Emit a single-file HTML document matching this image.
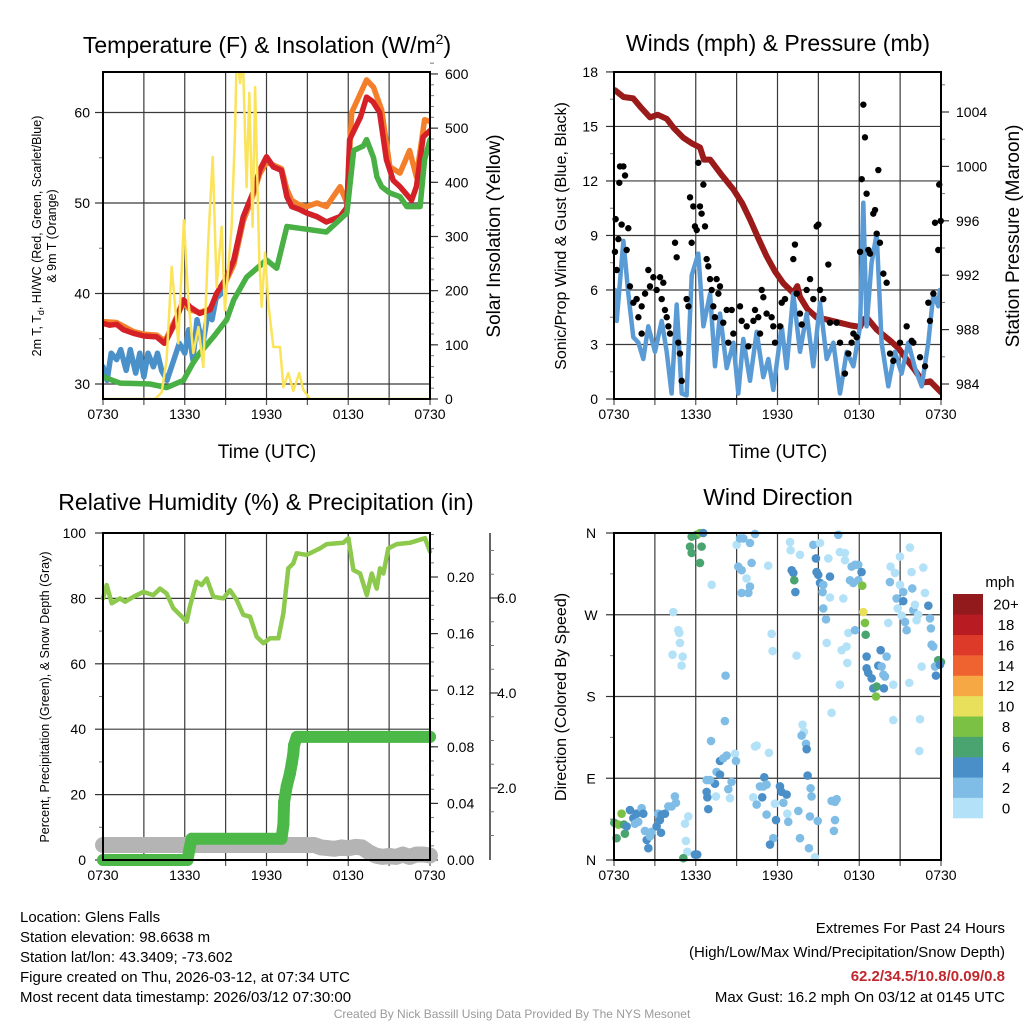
<!DOCTYPE html>
<html><head><meta charset="utf-8"><title>Glens Falls Meteogram</title>
<style>
html,body{margin:0;padding:0;background:#fff;}
svg{display:block;font-family:"Liberation Sans",sans-serif;}
</style></head>
<body>
<svg id="chart" width="1024" height="1024" viewBox="0 0 1024 1024" xmlns="http://www.w3.org/2000/svg">
<defs>
<clipPath id="clip1"><rect x="103" y="72" width="327" height="327"/></clipPath>
<clipPath id="clip2"><rect x="614" y="72" width="327" height="327"/></clipPath>
</defs>
<rect x="0" y="0" width="1024" height="1024" fill="#fff"/>
<text x="267" y="53" font-size="23" text-anchor="middle">Temperature (F) &amp; Insolation (W/m<tspan dy="-9" font-size="14">2</tspan><tspan dy="9">)</tspan></text>
<text x="778" y="51" font-size="23" text-anchor="middle">Winds (mph) &amp; Pressure (mb)</text>
<text x="266" y="510" font-size="23" text-anchor="middle">Relative Humidity (%) &amp; Precipitation (in)</text>
<text x="778" y="505" font-size="23" text-anchor="middle">Wind Direction</text>
<text x="267" y="458" font-size="19" text-anchor="middle">Time (UTC)</text>
<text x="778" y="458" font-size="19" text-anchor="middle">Time (UTC)</text>
<text transform="translate(41,236) rotate(-90)" font-size="12.5" text-anchor="middle">2m T, T<tspan dy="3" font-size="9">d</tspan><tspan dy="-3">, HI/WC (Red, Green, Scarlet/Blue)</tspan></text>
<text transform="translate(56,236) rotate(-90)" font-size="12.5" text-anchor="middle">&amp; 9m T (Orange)</text>
<text transform="translate(500,236) rotate(-90)" font-size="19" text-anchor="middle">Solar Insolation (Yellow)</text>
<text transform="translate(566,236) rotate(-90)" font-size="16" text-anchor="middle">Sonic/Prop Wind &amp; Gust (Blue, Black)</text>
<text transform="translate(1019,236) rotate(-90)" font-size="19" text-anchor="middle">Station Pressure (Maroon)</text>
<text transform="translate(49,697) rotate(-90)" font-size="12.5" text-anchor="middle">Percent, Precipitation (Green), &amp; Snow Depth (Gray)</text>
<text transform="translate(566,697) rotate(-90)" font-size="16" text-anchor="middle">Direction (Colored By Speed)</text>
<text x="1000" y="587" font-size="15" text-anchor="middle">mph</text>
<g font-size="15">
<text x="20" y="922">Location: Glens Falls</text>
<text x="20" y="942">Station elevation: 98.6638 m</text>
<text x="20" y="962">Station lat/lon: 43.3409; -73.602</text>
<text x="20" y="982">Figure created on Thu, 2026-03-12, at 07:34 UTC</text>
<text x="20" y="1002">Most recent data timestamp: 2026/03/12 07:30:00</text>
</g>
<g font-size="15" text-anchor="end">
<text x="1005" y="933">Extremes For Past 24 Hours</text>
<text x="1005" y="957">(High/Low/Max Wind/Precipitation/Snow Depth)</text>
<text x="1005" y="981" font-weight="bold" fill="#c1272d">62.2/34.5/10.8/0.09/0.8</text>
<text x="1005" y="1002">Max Gust: 16.2 mph On 03/12 at 0145 UTC</text>
</g>
<text x="512" y="1018" font-size="12" fill="#9a9a9a" text-anchor="middle">Created By Nick Bassill Using Data Provided By The NYS Mesonet</text>
</svg>
<script>
// ---------- DATA ----------
const xTickLabels = ["0730","1330","1930","0130","0730"];
const tempTicks = [30,40,50,60];
const insolTicks = [0,100,200,300,400,500,600];
const windTicks = [0,3,6,9,12,15,18];
const pressTicks = [984,988,992,996,1000,1004];
const rhTicks = [0,20,40,60,80,100];
const precipTicks = [0.00,0.04,0.08,0.12,0.16,0.20];
const precipTickLabels = ["0.00","0.04","0.08","0.12","0.16","0.20"];
const snowTicks = [2,4,6];
const snowTickLabels = ["2.0","4.0","6.0"];
const dirTicks = [0,90,180,270,360];
const dirTickLabels = ["N","E","S","W","N"];
const speedBins = ["0","2","4","6","8","10","12","14","16","18","20+"];

const tempTimes = [0,0.5,1,1.5,2.23,3,3.94,4.5,4.67,5.2,5.9,6.4,7.1,7.85,8.34,9.08,9.6,10.3,11.0,11.5,12.0,12.5,13.1,13.5,13.85,14.4,14.95,15.7,16.4,17.4,17.9,18.1,18.9,19.35,19.8,20.3,20.8,21.3,21.8,22.65,23.0,23.5,24];
const tempValues = [36.7,36.5,36.6,36.0,35.6,35.3,35.2,34.5,34.9,36.5,39.3,38.5,37.8,38.2,40,41.8,43.7,48.5,51.1,53.6,55.1,54,53.6,50.7,49.6,49.3,48.9,48.5,47.9,48.5,49.5,57,59.5,61.7,61.2,60,54.8,52.5,51.8,50.3,51.8,57.3,58];
const temp9mTimes = [0,1,2.23,3,3.94,4.5,4.67,5.2,5.9,6.4,7.1,7.85,8.34,9.08,9.6,10.3,11.0,11.5,12.0,12.5,13.1,13.5,13.85,14.4,14.95,15.7,16.4,17.4,17.9,18.25,19.35,19.85,20.45,21.05,21.8,22.5,23.0,23.6,24];
const temp9mValues = [36.9,36.8,35.8,35.5,35.4,34.8,35.1,36.8,39.0,38.2,37.9,38.3,39.7,41.5,43.2,48.0,50.8,53.2,54.5,54.2,53.8,51.5,50.3,49.8,49.6,50,49.6,51.8,50,60,63.6,62.8,60.3,54,53.3,55.8,52.9,59.2,59];
const chillTimes = [0,0.3,0.6,1,1.3,1.7,2,2.4,2.7,3,3.3,3.7,4,4.3,4.7,5.2,5.6,6,6.3,6.6,6.9,7.3,7.7,8,8.3,8.7,9.08,9.6,10.3,11.0,11.5,12.0,12.5,13.1,13.5,13.85,14.4,14.95,15.7,16.4,17.4,17.9,18.1];
const chillValues = [31.9,30.4,33.4,32.7,33.8,31.5,33.8,31.2,33.4,30.8,33.4,31.9,33.4,31.5,30.4,32.7,34.5,33.4,36,32.7,37.1,34.2,37.8,37.1,39.5,40,41.8,43.7,48.5,51.1,53.6,55.1,54,53.6,50.7,49.6,49.3,48.9,48.5,47.9,48.5,49.5,56];
const dewTimes = [0,1.25,3.45,4.67,5.9,6.6,7.1,8.1,9.08,9.6,10.54,12.0,12.75,13.5,14.46,16.4,17.9,18.4,19.1,19.35,19.85,20.1,20.45,21.06,21.8,22.3,23.27,23.6,24];
const dewValues = [30.8,30.1,30.0,29.6,30.4,32.3,33.4,35.2,37.1,39.3,41.8,43.7,42.8,47.4,47.2,46.8,48.9,55.8,56.3,57,55,52.9,51.8,51.1,50.7,49.6,49.6,54.8,57];
const insolTimes = [0,3.82,4.3,4.67,5.04,5.53,5.94,6.26,6.63,7.0,7.36,7.73,8.05,8.34,8.71,8.95,9.44,9.69,9.81,10.06,10.25,10.54,10.74,10.98,11.16,11.47,11.65,11.89,12.13,12.5,12.99,13.24,13.6,13.97,14.41,14.7,15.19,24];
const insolValues = [0,0,12,72,244,103,330,183,85,133,59,293,447,207,318,164,318,491,640,583,640,391,565,318,576,257,170,270,177,96,96,22,48,15,48,17,0,0];

const windTimes = [0.07,0.2,0.69,1.05,1.42,1.79,2.15,2.52,3.01,3.5,3.87,4.23,4.6,4.97,5.33,5.7,6.19,6.56,7.05,7.41,7.78,8.27,8.76,9.12,9.49,9.98,10.47,10.96,11.33,11.69,12.31,12.67,13.16,13.65,14.14,14.63,15.12,15.61,16.1,16.59,17.08,17.57,18.06,18.3,18.54,18.91,19.28,19.64,20.13,20.62,21.11,21.6,22.09,22.58,23.07,23.44,23.8,23.92];
const windValues = [6,4.3,8.7,5.8,3.4,3.1,2.2,4,2.6,4.3,2.6,0.3,5.2,0.3,0.2,6.8,8,4,5.8,1.8,4.7,1.7,3.1,0.3,3.3,1,3.7,1.2,2.2,0.5,4,1.7,5.8,2.6,4.7,1.8,5.3,2.2,3.1,0.3,2.6,1.8,4,10.8,4,7.5,9.1,3.1,0.7,2.6,1.4,3.1,1.7,0.7,3.1,5.8,5.1,6];
const gustTimes = [0.07,0.12,0.2,0.32,0.39,0.44,0.69,0.81,0.56,1.05,0.93,1.17,1.42,1.66,1.79,2.03,2.03,2.28,2.52,2.64,2.89,3.13,3.38,3.5,3.62,3.74,3.87,3.99,4.11,4.48,4.6,4.72,4.97,4.84,5.33,5.46,5.58,5.7,5.82,5.94,6.07,6.19,6.31,6.43,6.56,6.68,6.8,6.92,7.05,7.17,7.29,7.41,7.53,7.66,7.78,8.02,8.27,8.39,8.64,8.76,9.25,9.37,9.74,9.86,10.23,10.35,10.59,10.72,10.84,10.96,11.2,11.57,11.69,11.82,12.18,12.31,12.55,13.16,13.28,13.41,13.65,13.78,14.14,14.39,14.63,14.87,15.0,15.12,15.36,15.73,15.85,16.34,16.59,16.95,17.2,17.44,17.57,17.81,18.06,18.18,18.3,18.42,18.54,18.67,18.79,19.03,19.16,19.28,19.4,19.52,19.77,20.01,20.26,20.5,20.99,21.48,21.85,21.97,22.46,22.83,23.07,23.19,23.44,23.56,23.8,23.87,23.98];
const gustValues = [8.1,9.9,7.1,8.8,11.9,12.8,12.8,12.3,9.6,9.4,8.2,6.2,5.3,5.5,4.5,5.1,3.6,5.8,7.1,6.2,6.7,6.0,6.7,5.5,6.4,4.9,4.5,4.0,3.6,8.6,7.8,3.1,1.0,2.5,5.5,5.1,11.1,8.6,10.6,9.5,9.3,13,10.6,10.2,11.8,9.5,7.7,7.3,6.6,6.0,5.1,4.5,6.6,5.8,6.2,4.2,4.9,3.1,4.9,3.6,5.1,4.3,4.0,2.9,4.3,4.9,4.5,3.6,6.0,5.6,4.7,4.5,4.0,3.1,4.0,5.3,5.5,7.7,8.5,5.8,4.7,4.1,6.0,6.6,5.5,9.5,9.6,6.0,5.5,7.4,4.2,4.2,3.1,1.4,2.5,3.1,3.6,3.4,8.1,12.1,16.2,14.4,11.3,8.2,8.0,10.2,10.4,9.1,12.6,8.6,6.9,6.4,2.5,2.1,3.1,4.0,3.2,3.1,2.3,1.8,5.3,4.3,5.8,9.7,8.2,11.8,9.8];
const pressTimes = [0.07,0.7,1.42,2.0,2.64,3.2,3.87,4.4,5.09,5.7,6.31,6.6,7.05,7.8,8.76,9.4,9.98,10.6,11.2,11.8,12.43,13.16,13.45,13.65,14.2,14.87,15.8,16.59,17.4,18.06,18.3,18.54,19.28,20.26,20.9,21.48,22.1,22.7,23.2,24.0];
const pressValues = [1005.6,1005.1,1005.0,1004.3,1003.6,1003.8,1003.5,1002.8,1002.1,1001.7,1001.4,1000.5,1000.5,999.5,998.3,997.3,996.1,994.7,993.4,992.3,991.4,990.7,991.2,990.4,989.5,988.9,988.7,988.5,988.3,988.2,988.7,988.9,988.0,987.2,986.6,985.8,985.0,984.1,984.2,983.4];

const rhTimes = [0,0.27,0.64,1.25,1.62,2.23,2.96,3.69,4.18,4.67,5.16,5.65,6.14,6.38,6.87,7.24,7.61,8.1,8.83,9.32,9.81,10.3,10.79,11.28,11.77,12.26,12.87,13.24,13.6,13.97,14.22,14.95,15.93,16.42,17.64,18.01,18.38,18.87,19.36,19.72,20.09,20.33,20.58,20.94,21.56,22.53,23.63,24];
const rhValues = [80,84.1,78.5,80,79,80.5,82,81,83,81.5,77,75,72.9,77.5,85.1,84.1,86.1,80.5,80,82.5,79.5,75,74.4,68.3,66.3,67.8,67.8,75.5,89.2,90.7,93.8,93.3,95.3,96.6,97,98.4,88.7,87.6,81,87.6,83,89.2,87.6,95.3,96.6,97,98.4,94.3];
const precipTimes = [0,6.2,6.35,6.5,13.1,13.24,13.29,13.48,13.72,13.85,13.97,14.02,14.22,24];
const precipValues = [0,0,0.008,0.015,0.015,0.025,0.041,0.052,0.061,0.068,0.075,0.081,0.087,0.087];
const snowTimes = [0,2,4,6,8,10,12,14,15.5,16,17,17.5,18,18.5,19,19.5,20,20.5,21,21.5,22,22.5,23,23.5,24];
const snowValues = [0.8,0.8,0.8,0.8,0.8,0.8,0.8,0.8,0.8,0.75,0.72,0.75,0.73,0.76,0.75,0.65,0.58,0.55,0.57,0.55,0.6,0.55,0.6,0.6,0.58];

const dirTimes = [6.06,6.31,6.55,5.70,5.58,5.70,6.43,6.31,7.17,9.0,9.25,9.49,10.35,9.98,9.12,9.37,9.73,9.98,9.37,9.86,10.1,11.32,12.92,12.96,13.65,14.63,15.12,14.82,13.04,13.16,13.23,13.31,14.87,14.99,15.12,15.85,15.36,15.31,15.85,16.83,15.73,16.46,16.58,16.95,16.95,17.44,17.69,17.93,18.17,17.32,17.56,17.93,18.22,18.30,18.42,18.47,15.36,15.56,15.61,17.20,17.69,17.07,16.71,17.12,16.58,18.54,19.57,20.01,18.54,18.66,18.91,19.03,19.28,19.23,19.40,19.64,19.77,19.89,19.81,20.5,21.67,20.25,20.30,20.62,20.99,21.72,21.84,22.7,20.99,21.23,21.89,22.82,20.74,21.23,20.82,21.97,22.09,21.11,21.36,21.48,22.21,22.33,23.07,23.19,23.26,23.31,23.43,23.8,24.0,23.56,23.92,23.63,22.58,20.13,20.5,22.46,22.41,15.97,4.35,4.72,4.79,4.84,4.30,5.04,4.96,8.19,11.57,11.64,13.40,8.14,7.12,7.78,8.02,8.27,8.88,8.95,7.53,7.78,7.41,6.80,7.04,8.63,8.39,8.51,7.48,6.80,6.85,6.92,10.35,10.47,11.37,11.03,10.71,10.96,11.20,10.88,10.22,10.47,11.20,11.81,11.89,12.18,12.30,12.67,12.43,12.72,11.69,11.45,13.53,12.79,13.84,13.94,13.77,14.09,14.14,14.21,14.43,14.5,14.38,14.95,13.65,14.31,14.75,15.97,16.22,16.34,16.22,16.14,5.45,5.21,5.28,5.38,5.09,5.94,6.11,0.19,0.02,0.32,0.56,0.73,0.80,0.93,1.17,1.42,1.66,1.78,2.03,2.15,1.54,2.27,2.40,2.52,2.64,2.76,3.25,3.50,3.37,3.74,3.99,4.23,4.47,4.55,3.45,3.13];
const dirValues = [358,360,360,356,345,338,345,327,303,347,354,354,359,349,323,319,310,301,294,294,327,324,350,341,336,347,349,332,319,316,308,295,317,314,305,312,303,295,289,288,332,358,339,338,330,323,325,325,317,308,305,308,302,273,261,248,277,265,239,250,253,235,231,217,193,224,231,224,211,206,200,189,191,180,214,213,204,202,189,193,195,306,323,316,334,344,317,322,303,295,299,294,288,285,277,275,281,269,262,253,264,270,280,266,255,237,235,220,218,213,215,203,213,261,154,155,120,162,273,253,250,239,226,224,214,203,249,230,225,153,131,109,112,115,117,109,97,94,84,88,88,86,78,68,70,75,69,56,125,126,118,91,81,81,83,69,69,61,50,62,44,81,75,72,63,51,24,17,54,42,149,141,137,128,122,93,79,70,48,43,24,13,3,65,64,67,44,32,48,40,21,9,2,6,6,24,41,39,51,39,29,37,55,46,51,42,57,51,40,32,22,13,26,31,51,50,44,51,59,59,70,63,30,37];
const dirSpeeds = [6,8,4,6,6,6,6,6,0,0,2,2,2,2,2,2,0,2,2,2,2,0,0,0,0,2,0,4,4,4,6,4,4,4,4,4,2,2,0,0,0,2,0,0,0,2,2,2,4,2,2,2,8,10,8,6,2,2,0,0,2,0,0,0,0,4,4,2,4,4,4,4,6,8,4,2,2,2,4,0,0,2,0,0,0,0,0,0,0,2,2,0,2,4,0,2,0,0,2,2,0,0,4,2,2,2,2,6,6,2,4,4,0,0,0,0,0,0,0,0,0,0,0,0,0,2,0,0,0,2,2,4,2,2,0,2,2,4,4,2,2,2,2,0,0,4,4,4,0,0,0,4,2,2,2,4,0,2,2,0,4,4,4,4,2,0,2,4,2,2,0,0,2,2,4,4,2,2,2,2,2,2,0,2,2,2,2,2,0,0,0,0,6,4,4,6,6,8,8,6,6,4,4,4,4,2,2,4,2,2,4,4,2,2,2,4,4,4,2,2,2,2,4,4,2];

// ---------- HELPERS ----------
const NS = 'http://www.w3.org/2000/svg';
const svg = document.getElementById('chart');
function mk(tag, attrs, parent) {
  const e = document.createElementNS(NS, tag);
  for (const k in attrs) e.setAttribute(k, attrs[k]);
  (parent || svg).appendChild(e);
  return e;
}
function grp(name, clip) {
  const g = mk('g', clip ? {'clip-path': 'url(#' + clip + ')'} : {});
  
  
  return g;
}
function pts(times, vals, xf, yf) {
  return times.map((t, i) => xf(t).toFixed(1) + ',' + yf(vals[i]).toFixed(1)).join(' ');
}
const speedColors = ['#b3e1f7','#7fbde6','#4a8fc7','#4aa46f','#7bc143','#e8e05a','#f6a845','#ef6330','#dd3a2a','#b81c22','#931a1c'];

// scales
const PW = 327, HOUR = PW / 24;
const x1 = t => 103 + t * HOUR;
const x2 = t => 614 + t * HOUR;
const yT = v => 384 - (v - 30) * 9.05;
const yI = v => 399 - v * 0.5417;
const yW = v => 399 - v * 18.17;
const yP = v => 384 - (v - 984) * 13.6;
const yRH = v => 860 - v * 3.27;
const yPr = v => 860 - v * 1415;
const ySn = v => 883 - v * 47.5;
const yD = v => 860 - v * 0.9083;

// ---------- PANEL FRAMES/GRIDS ----------
function panelGrid(name, x0, y0, hVals, yf) {
  const g = grp(name + '-grid');
  for (let h = 3; h < 24; h += 3) {
    const l = mk('line', {x1: x0 + h * HOUR, x2: x0 + h * HOUR, y1: y0, y2: y0 + PW, stroke: '#3a3a3a', 'stroke-width': 1.2}, g);
    
    
  }
  hVals.forEach(v => {
    const y = yf(v);
    if (y <= y0 + 1 || y >= y0 + PW - 1) return;
    const l = mk('line', {x1: x0, x2: x0 + PW, y1: y, y2: y, stroke: '#3a3a3a', 'stroke-width': 1.2}, g);
    
    
  });
  for (let h = 0; h <= 24; h += 3) {
    const tk = mk('line', {x1: x0 + h * HOUR, x2: x0 + h * HOUR, y1: y0 + PW, y2: y0 + PW + 6, stroke: '#555', 'stroke-width': 1.2}, g);
    
    
  }
  xTickLabels.forEach((s, i) => {
    const t = mk('text', {x: x0 + i * 6 * HOUR, y: y0 + PW + 20, 'font-size': 14, 'text-anchor': 'middle'}, g);
    t.textContent = s;
    
    
  });
}
function frame(name, x0, y0) {
  const r = mk('rect', {x: x0, y: y0, width: PW, height: PW, fill: 'none', stroke: '#000', 'stroke-width': 2});
  
  
}
function yAxis(name, ax, vals, labels, yf, side, minorVals, lx, anchor) {
  const g = grp(name);
  const dir = side === 'left' ? -1 : 1;
  minorVals.forEach(v => {
    const y = yf(v);
    const m = mk('line', {x1: ax, x2: ax + dir * 4, y1: y, y2: y, stroke: '#777', 'stroke-width': 1}, g);
    
    
  });
  vals.forEach((v, i) => {
    const y = yf(v);
    const tk = mk('line', {x1: ax, x2: ax + dir * 8, y1: y, y2: y, stroke: '#333', 'stroke-width': 1.2}, g);
    
    
    const t = mk('text', {x: lx, y: y + 5, 'font-size': 14, 'text-anchor': anchor}, g);
    t.textContent = labels[i];
    
    
  });
}
function range(a, b, s) { const r = []; for (let v = a; v <= b + 1e-9; v += s) r.push(+v.toFixed(4)); return r; }

panelGrid('temp-panel', 103, 72, tempTicks, yT);
yAxis('temp-y-axis', 103, tempTicks, tempTicks.map(String), yT, 'left', [35,45,55], 90, 'end');
yAxis('insolation-y-axis', 430, insolTicks, insolTicks.map(String), yI, 'right', range(20, 640, 20), 445, 'start');
panelGrid('winds-panel', 614, 72, windTicks, yW);
yAxis('wind-y-axis', 614, windTicks, windTicks.map(String), yW, 'left', range(1.5, 16.5, 3), 598, 'end');
yAxis('pressure-y-axis', 941, pressTicks, pressTicks.map(String), yP, 'right', range(984, 1006, 2), 956, 'start');
panelGrid('humidity-panel', 103, 533, rhTicks, yRH);
yAxis('rh-y-axis', 103, rhTicks, rhTicks.map(String), yRH, 'left', range(10, 90, 20), 86, 'end');
yAxis('precip-y-axis', 430, precipTicks, precipTickLabels, yPr, 'right', range(0.01, 0.23, 0.01), 447, 'start');
(function(){
  const ln = mk('line', {x1: 490, x2: 490, y1: 533, y2: 860, stroke: '#333', 'stroke-width': 1.5});
  
  
})();
yAxis('snow-y-axis', 490, snowTicks, snowTickLabels, ySn, 'right', range(1, 7, 0.5), 497, 'start');
panelGrid('direction-panel', 614, 533, [90,180,270], yD);
yAxis('direction-y-axis', 614, dirTicks, dirTickLabels, yD, 'left', [45,135,225,315], 591, 'middle');

// ---------- SERIES ----------
function line(g, name, times, vals, xf, yf, color, w) {
  const p = mk('polyline', {points: pts(times, vals, xf, yf), fill: 'none', stroke: color, 'stroke-width': w, 'stroke-linejoin': 'round', 'stroke-linecap': 'round'}, g);
  
  
  return p;
}
const g1 = grp('temp-series', 'clip1');
line(g1, 'temp-9m-line', temp9mTimes, temp9mValues, x1, yT, '#f47f2b', 5.5);
line(g1, 'heat-index-wind-chill-line', chillTimes, chillValues, x1, yT, '#4b91c9', 5.5);
line(g1, 'temp-2m-line', tempTimes, tempValues, x1, yT, '#d62027', 5.5);
line(g1, 'dewpoint-line', dewTimes, dewValues, x1, yT, '#48b044', 5.5);
line(g1, 'insolation-line', insolTimes, insolValues, x1, yI, '#fbe35a', 2.5);

const g2 = grp('winds-series', 'clip2');
line(g2, 'pressure-line', pressTimes, pressValues, x2, yP, '#9b1a1a', 6);
line(g2, 'wind-speed-line', windTimes, windValues, x2, yW, '#5a9bd5', 4.5);
const gg = grp('gust-points');
gustTimes.forEach((t, i) => {
  const c = mk('circle', {cx: x2(t), cy: yW(gustValues[i]), r: 3.2, fill: '#000'}, gg);
  
  
});

const g3 = grp('humidity-series');
line(g3, 'snow-depth-line', snowTimes, snowValues, x1, ySn, '#b4b4b4', 16);
line(g3, 'precipitation-line', precipTimes, precipValues, x1, yPr, '#4cb848', 12);
precipTimes.forEach((t, i) => {
  const c = mk('circle', {cx: x1(t), cy: yPr(precipValues[i]), r: 6, fill: '#4cb848'}, g3);
  
  
});
line(g3, 'relative-humidity-line', rhTimes, rhValues, x1, yRH, '#8dc94c', 4.5);

const g4 = grp('direction-points');
dirTimes.forEach((t, i) => {
  const bin = Math.min(10, Math.floor(dirSpeeds[i] / 2));
  const c = mk('circle', {cx: x2(t), cy: yD(dirValues[i]), r: 4.3, fill: speedColors[bin]}, g4);
  
  
});

const gc = grp('speed-colorbar');
const boxH = 224 / speedBins.length;
speedBins.forEach((s, i) => {
  const y = 818 - (i + 1) * boxH;
  const r = mk('rect', {x: 953, y: y, width: 30, height: boxH + 0.3, fill: speedColors[i]}, gc);
  
  
  const t = mk('text', {x: 1006, y: y + boxH / 2 + 5.5, 'font-size': 15, 'text-anchor': 'middle'}, gc);
  t.textContent = s;
  
  
});

frame('temp-panel', 103, 72);
frame('winds-panel', 614, 72);
frame('humidity-panel', 103, 533);
frame('direction-panel', 614, 533);
</script>
</body></html>
